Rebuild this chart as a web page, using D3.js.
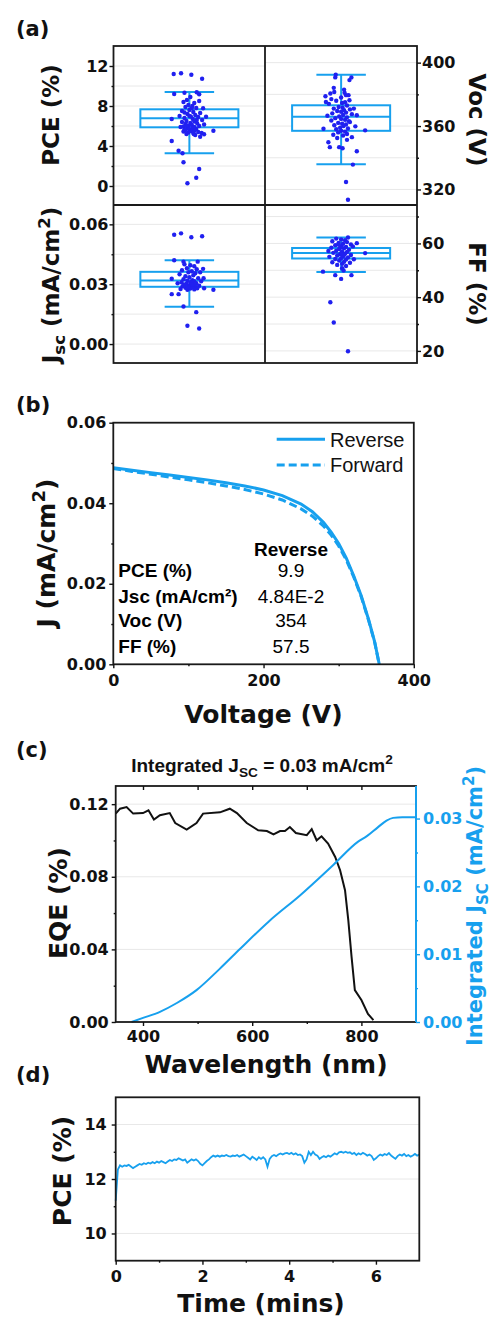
<!DOCTYPE html>
<html lang="en">
<head>
<meta charset="UTF-8">
<title>Device performance</title>
<script src="https://cdn.jsdelivr.net/npm/d3@7"></script>
<style>
  body { margin: 0; background: #fff; }
  svg { display: block; }
</style>
</head>
<body>
<svg id="fig" width="492" height="1319"></svg>
<script>
// ---------- (a) statistics: [jitter (box half-widths), value] ----------
const pcePts = [
  [-0.32, 11.2], [-0.17, 11.27], [0.04, 11.13], [0.26, 10.73], [-0.31, 9.2], [-0.1, 9.33], [0.15, 9.37], [0.2, 9.17],
  [-0.36, 4.5], [-0.22, 3.53], [-0.14, 3.27], [-0.12, 2.37], [0.2, 1.7], [0.14, 0.83], [-0.04, 0.27],
  [0.49, 5.53], [0.34, 6.93], [0.28, 7.77], [0.3, 5.17], [0.22, 4.93], [-0.36, 6.7],
  [-0.05, 8.6], [0.02, 8.9], [-0.12, 8.4], [0.1, 8.3], [0.2, 8.5], [-0.02, 8.1], [0.06, 8.0], [-0.08, 7.9],
  [0.14, 7.8], [0.0, 7.6], [-0.15, 7.5], [0.08, 7.4], [0.22, 7.3], [-0.04, 7.2], [0.12, 7.1], [-0.2, 7.0],
  [0.03, 6.95], [0.18, 6.9], [-0.1, 6.8], [0.07, 6.7], [0.26, 6.6], [-0.06, 6.5], [0.1, 6.45], [-0.15, 6.4],
  [0.02, 6.3], [0.16, 6.25], [-0.08, 6.2], [0.05, 6.1], [-0.02, 6.0], [0.2, 6.0], [-0.12, 5.95], [0.1, 5.9],
  [-0.04, 5.8], [0.06, 5.75], [-0.18, 5.9], [0.14, 5.7], [0.0, 5.65], [-0.08, 5.6], [0.1, 5.55], [0.04, 5.5],
  [-0.12, 5.45], [0.18, 5.4], [-0.02, 5.35], [0.08, 5.3], [-0.06, 5.2], [0.25, 5.3], [0.12, 5.1], [-0.1, 5.65],
  [0.3, 6.15], [0.0, 7.0], [-0.1, 7.35], [0.05, 7.8], [0.15, 6.6], [-0.05, 6.05], [0.09, 5.2]
];
const vocPts = [
  [-0.11, 392.4], [-0.12, 390.7], [0.17, 389], [0.21, 390.7], [-0.15, 384.1], [-0.22, 380.5], [0.07, 381],
  [-0.32, 378.8], [-0.31, 375.2], [0.15, 379.5], [0.17, 376.3], [-0.36, 358.3], [0.49, 357.3], [-0.26, 349.8],
  [-0.23, 346.7], [-0.04, 346.7], [0.03, 346], [0.32, 344.1], [0.12, 351.3], [0.22, 353], [0.24, 335.7],
  [0.1, 324.7], [0.14, 313.5], [0.32, 366.8], [0.29, 359.8],
  [-0.2, 377], [-0.1, 376], [0.0, 378], [0.08, 375], [-0.25, 374], [0.12, 373], [-0.05, 372], [0.03, 371.5],
  [-0.15, 371], [0.18, 370.5], [0.06, 370], [-0.08, 369.5], [0.0, 369], [0.1, 368.5], [-0.18, 368], [0.22, 367.5],
  [0.04, 367], [-0.04, 366], [0.12, 365.5], [-0.12, 365], [0.0, 364.5], [0.08, 364], [-0.2, 363.5], [0.16, 363],
  [-0.06, 362], [0.02, 361.5], [0.1, 361], [-0.14, 360.5], [0.05, 360], [-0.02, 359], [0.14, 358.5], [-0.1, 358],
  [0.0, 357], [0.08, 356.5], [-0.06, 356], [0.12, 355], [-0.16, 354.5], [0.04, 354], [-0.08, 352.5], [0.18, 362.5],
  [-0.28, 366.5], [0.02, 374.5], [0.1, 379.5], [-0.14, 381.5], [0.06, 383], [0.26, 371]
];
const jscPts = [
  [-0.31, 0.0548], [-0.17, 0.0555], [0.04, 0.0535], [0.26, 0.054], [-0.36, 0.025], [-0.22, 0.025], [-0.12, 0.0188],
  [0.14, 0.016], [-0.04, 0.0092], [0.2, 0.0078], [0.49, 0.0272], [-0.31, 0.042], [-0.12, 0.0413], [0.17, 0.0413],
  [0.28, 0.0377], [-0.36, 0.0327], [0.3, 0.028], [0.29, 0.033],
  [-0.1, 0.040], [0.02, 0.0395], [0.1, 0.039], [-0.05, 0.038], [0.15, 0.0375], [-0.15, 0.037], [0.05, 0.0365],
  [-0.02, 0.036], [0.12, 0.0355], [-0.2, 0.035], [0.08, 0.0345], [-0.08, 0.034], [0.0, 0.0335], [0.18, 0.033],
  [-0.12, 0.0325], [0.06, 0.032], [-0.04, 0.0318], [0.1, 0.0315], [-0.16, 0.031], [0.02, 0.0308], [0.14, 0.0305],
  [-0.06, 0.0302], [0.04, 0.030], [-0.1, 0.0298], [0.08, 0.0296], [0.0, 0.0294], [0.2, 0.0292], [-0.14, 0.029],
  [0.12, 0.0288], [-0.02, 0.0286], [0.06, 0.0284], [-0.08, 0.0282], [0.16, 0.028], [0.02, 0.0278], [-0.18, 0.0276],
  [0.1, 0.0274], [-0.04, 0.0272], [0.04, 0.031], [0.24, 0.0315], [-0.24, 0.0305], [0.22, 0.036], [-0.02, 0.0285],
  [0.06, 0.0298]
];
const ffPts = [
  [-0.37, 49.5], [-0.12, 48.2], [0.0, 46.8], [0.21, 48.2], [-0.22, 38.1], [-0.15, 30.6], [0.14, 19.9],
  [0.49, 56.4], [0.14, 62.2], [0.02, 50.8], [0.05, 49.9], [0.32, 60.1], [0.26, 54.1],
  [-0.1, 61.8], [0.0, 61.5], [0.08, 61.2], [-0.18, 60.8], [0.12, 60.5], [-0.05, 60.2], [0.04, 59.9], [0.2, 59.6],
  [-0.12, 59.3], [0.0, 59.0], [0.1, 58.7], [-0.2, 58.4], [0.06, 58.2], [-0.04, 57.9], [0.16, 57.6], [-0.1, 57.3],
  [0.02, 57.0], [0.12, 56.8], [-0.16, 56.5], [0.08, 56.2], [-0.02, 56.0], [0.2, 55.7], [-0.08, 55.5], [0.04, 55.2],
  [-0.24, 55.0], [0.14, 54.8], [0.0, 54.5], [-0.12, 54.2], [0.1, 54.0], [-0.04, 53.6], [0.06, 53.2], [-0.18, 53.0],
  [0.18, 52.8], [0.02, 52.4], [-0.08, 52.0], [0.1, 51.6], [-0.02, 58.5], [0.24, 58.9], [-0.26, 57.2], [0.0, 56.4],
  [0.06, 55.8], [-0.06, 59.6]
];
// whisker low, Q1, median, Q3, whisker high
const pceBox = [3.27, 5.87, 6.77, 7.67, 9.4];
const vocBox = [335.9, 357.0, 365.9, 373.1, 392.4];
const jscBox = [0.0187, 0.0287, 0.0319, 0.0362, 0.042];
const ffBox = [49.4, 54.4, 56.4, 58.3, 62.2];

// ---------- (b) J-V ----------
const voltage = [0, 25, 50, 75, 100, 125, 150, 175, 200, 225, 250, 265, 280, 290, 300, 310, 320, 330, 340, 348, 354];
const jReverse = [0.0488, 0.0482, 0.0476, 0.0470, 0.0464, 0.0458, 0.0451, 0.0443, 0.0433, 0.0419, 0.0398, 0.0379,
  0.0352, 0.0328, 0.0300, 0.0264, 0.0220, 0.0170, 0.0110, 0.0055, 0];
const jForward = [0.0486, 0.0479, 0.0472, 0.0465, 0.0458, 0.0451, 0.0443, 0.0434, 0.0423, 0.0408, 0.0386, 0.0368,
  0.0343, 0.0321, 0.0294, 0.0260, 0.0217, 0.0168, 0.0108, 0.0054, 0];
const tableRows = ['PCE (%)', 'Jsc (mA/cm²)', 'Voc (V)', 'FF (%)'];
const tableVals = ['9.9', '4.84E-2', '354', '57.5'];

// ---------- (c) EQE ----------
const eqeLam = [350, 358, 370, 382, 400, 410, 420, 431, 449, 459, 480, 498, 510, 541, 559, 572, 590, 611, 627, 639,
  651, 660, 669, 680, 700, 709, 718, 727, 739, 752, 761, 770, 776, 782, 788, 800, 812, 822];
const eqeVal = [0.1148, 0.1175, 0.1184, 0.1148, 0.1151, 0.1166, 0.1115, 0.1139, 0.1151, 0.1096, 0.106, 0.1096, 0.1148,
  0.1155, 0.1175, 0.1151, 0.1096, 0.1056, 0.1052, 0.1034, 0.1052, 0.1052, 0.1074, 0.1041, 0.1029, 0.1062, 0.1001,
  0.1023, 0.0983, 0.0909, 0.0836, 0.0726, 0.0561, 0.0359, 0.0176, 0.0121, 0.0045, 0.001];
const jscLam = [379, 400, 431, 462, 498, 540, 578, 630, 688, 749, 794, 810, 830, 846, 858, 875, 900];
const jscInt = [0, 0.0006, 0.0015, 0.0028, 0.0047, 0.0078, 0.0108, 0.0148, 0.0187, 0.0232, 0.0266, 0.0274, 0.0287,
  0.0297, 0.0301, 0.0302, 0.0302];

// ---------- (d) stabilised PCE, one value every 0.05 min ----------
const timeStep = 0.05;
const pceTrack = [
  11.2, 12.35, 12.5, 12.45, 12.5, 12.48, 12.52, 12.46, 12.4, 12.45, 12.5, 12.55, 12.52, 12.58, 12.55, 12.6, 12.57,
  12.62, 12.58, 12.64, 12.6, 12.66, 12.62, 12.58, 12.64, 12.7, 12.66, 12.72, 12.7, 12.76, 12.72, 12.68, 12.72, 12.6,
  12.66, 12.72, 12.68, 12.72, 12.66, 12.56, 12.5, 12.58, 12.66, 12.72, 12.8, 12.86, 12.82, 12.86, 12.82, 12.86, 12.84,
  12.88, 12.84, 12.82, 12.86, 12.84, 12.88, 12.82, 12.86, 12.9, 12.84, 12.78, 12.72, 12.82, 12.76, 12.7, 12.8, 12.74,
  12.8, 12.72, 12.45, 12.74, 12.84, 12.88, 12.84, 12.9, 12.94, 12.9, 12.94, 12.96, 12.92, 12.96, 12.9, 12.94, 12.88,
  12.9, 12.84, 12.6, 12.72, 13.0, 12.88, 13.0, 12.9, 12.86, 12.74, 12.8, 12.84, 12.8, 12.86, 12.82, 12.88, 12.94,
  12.9, 12.98, 13.0, 12.96, 13.0, 12.96, 12.98, 12.92, 12.96, 12.88, 12.94, 12.9, 12.96, 12.92, 12.86, 12.9, 12.84,
  12.7, 12.76, 12.84, 12.9, 12.86, 12.92, 12.88, 12.95, 12.86, 12.8, 12.74, 12.84, 12.9, 12.86, 12.92, 12.84, 12.88,
  12.82, 12.86, 12.92, 12.86, 12.9
];

// ---------- helpers ----------
const BLUE = '#17a0ee';
const DOT = '#2020f0';
const GRID = '#e8e8e8';
const svg = d3.select('#fig');

function styleAxis(g, color) {
  g.select('.domain').remove();
  g.selectAll('.tick line').attr('stroke', color).attr('stroke-width', 1.4);
  g.selectAll('.tick text').attr('fill', color)
    .style('font-family', '"DejaVu Sans"').style('font-weight', 'bold').style('font-size', '16px');
}
function addAxis(gen, tx, ty, color = '#111') {
  const g = svg.append('g').attr('transform', `translate(${tx},${ty})`).call(gen);
  styleAxis(g, color);
  return g;
}
function grid(scale, vals, x0, x1) {
  svg.append('g').selectAll('line').data(vals).join('line')
    .attr('x1', x0).attr('x2', x1)
    .attr('y1', d => scale(d)).attr('y2', d => scale(d))
    .attr('stroke', GRID).attr('stroke-width', 1);
}
function frame(x0, y0, x1, y1) {
  svg.append('rect').attr('x', x0).attr('y', y0).attr('width', x1 - x0).attr('height', y1 - y0)
    .attr('fill', 'none').attr('stroke', '#1a1a1a').attr('stroke-width', 1.8);
}
function rich(parts, x, y, rot, size, color = '#111', weight = 'bold', family = '"DejaVu Sans"', anchor = 'middle') {
  const t = svg.append('text')
    .attr('transform', `translate(${x},${y}) rotate(${rot})`)
    .attr('text-anchor', anchor).attr('fill', color)
    .style('font-family', family).style('font-weight', weight).style('font-size', size + 'px');
  let shift = 0;
  parts.forEach(([s, kind]) => {
    const target = kind === 'sub' ? size * 0.28 : kind === 'sup' ? -size * 0.4 : 0;
    t.append('tspan').attr('dy', target - shift)
      .style('font-size', (kind ? size * 0.72 : size) + 'px').text(s);
    shift = target;
  });
  return t;
}

// ================= (a) =================
const aX0 = 113.5, aX1 = 417, aMid = 265, aY0 = 46, aYm = 205, aY1 = 363;
const colX = d3.scaleBand().domain(['left', 'right']).range([aX0, aX1]);
const bw = colX.bandwidth();
const boxHalf = bw * 0.323, capHalf = bw * 0.163;

const yPce = d3.scaleLinear().domain([-1.9, 14]).range([aYm, aY0]);
const yVoc = d3.scaleLinear().domain([310.2, 410.5]).range([aYm, aY0]);
const yJsc = d3.scaleLinear().domain([-0.0095, 0.0697]).range([aY1, aYm]);
const yFf = d3.scaleLinear().domain([15.5, 74.3]).range([aY1, aYm]);

grid(yPce, [0, 2, 4, 6, 8, 10, 12], aX0, aMid);
grid(yVoc, [320, 340, 360, 380, 400], aMid, aX1);
grid(yJsc, [0, 0.015, 0.03, 0.045, 0.06], aX0, aMid);
grid(yFf, [20, 30, 40, 50, 60, 70], aMid, aX1);

function cell(col, y, pts, box) {
  const cx = colX(col) + bw / 2;
  const g = svg.append('g');
  g.append('line').attr('x1', cx).attr('x2', cx).attr('y1', y(box[0])).attr('y2', y(box[4]));
  [box[0], box[4]].forEach(v => g.append('line')
    .attr('x1', cx - capHalf).attr('x2', cx + capHalf).attr('y1', y(v)).attr('y2', y(v)));
  g.append('rect').attr('x', cx - boxHalf).attr('width', 2 * boxHalf)
    .attr('y', y(box[3])).attr('height', y(box[1]) - y(box[3])).attr('fill', '#fff');
  g.append('line').attr('x1', cx - boxHalf).attr('x2', cx + boxHalf).attr('y1', y(box[2])).attr('y2', y(box[2]));
  g.selectAll('line, rect').attr('stroke', BLUE).attr('stroke-width', 2);
  g.selectAll('circle').data(pts).join('circle')
    .attr('cx', d => cx + d[0] * boxHalf).attr('cy', d => y(d[1])).attr('r', 2.2)
    .attr('fill', DOT);
}
cell('left', yPce, pcePts, pceBox);
cell('right', yVoc, vocPts, vocBox);
cell('left', yJsc, jscPts, jscBox);
cell('right', yFf, ffPts, ffBox);

frame(aX0, aY0, aX1, aY1);
svg.append('line').attr('x1', aMid).attr('x2', aMid).attr('y1', aY0).attr('y2', aY1).attr('stroke', '#1a1a1a').attr('stroke-width', 1.8);
svg.append('line').attr('x1', aX0).attr('x2', aX1).attr('y1', aYm).attr('y2', aYm).attr('stroke', '#1a1a1a').attr('stroke-width', 1.8);

addAxis(d3.axisLeft(yPce).tickValues([0, 4, 8, 12]).tickSize(4).tickPadding(1).tickFormat(d3.format('d')), aX0, 0);
addAxis(d3.axisLeft(yPce).tickValues([2, 6, 10]).tickSize(2).tickFormat(''), aX0, 0);
addAxis(d3.axisRight(yVoc).tickValues([320, 360, 400]).tickSize(4).tickPadding(1).tickFormat(d3.format('d')), aX1, 0);
addAxis(d3.axisRight(yVoc).tickValues([340, 380]).tickSize(2).tickFormat(''), aX1, 0);
addAxis(d3.axisLeft(yJsc).tickValues([0, 0.03, 0.06]).tickSize(4).tickPadding(1).tickFormat(d3.format('.2f')), aX0, 0);
addAxis(d3.axisLeft(yJsc).tickValues([0.015, 0.045]).tickSize(2).tickFormat(''), aX0, 0);
addAxis(d3.axisRight(yFf).tickValues([20, 40, 60]).tickSize(4).tickPadding(1).tickFormat(d3.format('d')), aX1, 0);
addAxis(d3.axisRight(yFf).tickValues([30, 50, 70]).tickSize(2).tickFormat(''), aX1, 0);

rich([['PCE (%)']], 59, 115, -90, 23);
rich([['Voc (V)']], 469, 120, 90, 23);
rich([['J'], ['sc', 'sub'], [' (mA/cm'], ['2', 'sup'], [')']], 59, 285, -90, 23);
rich([['FF (%)']], 469, 284, 90, 23);

// ================= (b) =================
const xV = d3.scaleLinear().domain([0, 400]).range([113.3, 413.8]);
const yJ = d3.scaleLinear().domain([0, 0.06]).range([664.3, 422.7]);
const jvLine = d3.line().x(d => xV(d[0])).y(d => yJ(d[1]));
svg.append('path').datum(voltage.map((v, i) => [v, jForward[i]])).attr('d', jvLine)
  .attr('fill', 'none').attr('stroke', BLUE).attr('stroke-width', 3).attr('stroke-dasharray', '8,4');
svg.append('path').datum(voltage.map((v, i) => [v, jReverse[i]])).attr('d', jvLine)
  .attr('fill', 'none').attr('stroke', BLUE).attr('stroke-width', 3);
frame(113.3, 422.7, 413.8, 664.3);
addAxis(d3.axisLeft(yJ).tickValues([0, 0.02, 0.04, 0.06]).tickSize(4).tickPadding(3).tickFormat(d3.format('.2f')), 113.3, 0);
addAxis(d3.axisLeft(yJ).tickValues([0.01, 0.03, 0.05]).tickSize(2).tickFormat(''), 113.3, 0);
addAxis(d3.axisBottom(xV).tickValues([0, 200, 400]).tickSize(4).tickPadding(6).tickFormat(d3.format('d')), 0, 664.3);
addAxis(d3.axisBottom(xV).tickValues([100, 300]).tickSize(2).tickFormat(''), 0, 664.3);

// legend
[['Reverse', null, 439.3, 446.7], ['Forward', '8,4', 465, 472]].forEach(([name, dash, ly, ty]) => {
  svg.append('line').attr('x1', 276.7).attr('x2', 325).attr('y1', ly).attr('y2', ly)
    .attr('stroke', BLUE).attr('stroke-width', 3).attr('stroke-dasharray', dash);
  svg.append('text').attr('x', 330).attr('y', ty).text(name)
    .style('font-family', '"Liberation Sans", Arial').style('font-size', '20px').attr('fill', '#111');
});
// parameter table
svg.append('text').attr('x', 291).attr('y', 556).attr('text-anchor', 'middle').text('Reverse')
  .style('font-family', '"Liberation Sans", Arial').style('font-weight', 'bold').style('font-size', '19px');
const rowY = [576.7, 602.7, 626.7, 652.7];
svg.append('g').selectAll('text').data(tableRows).join('text')
  .attr('x', 118.3).attr('y', (d, i) => rowY[i]).text(d => d)
  .style('font-family', '"Liberation Sans", Arial').style('font-weight', 'bold').style('font-size', '19px');
svg.append('g').selectAll('text').data(tableVals).join('text')
  .attr('x', 291).attr('y', (d, i) => rowY[i]).attr('text-anchor', 'middle').text(d => d)
  .style('font-family', '"Liberation Sans", Arial').style('font-size', '19px');

rich([['J (mA/cm'], ['2', 'sup'], [')']], 55, 553, -90, 25);
rich([['Voltage (V)']], 263.5, 723, 0, 25);

// ================= (c) =================
const xL = d3.scaleLinear().domain([350, 900]).range([115.7, 416]);
const yE = d3.scaleLinear().domain([0, 0.13]).range([1022, 786]);
const yI = d3.scaleLinear().domain([0, 0.0348]).range([1022, 786]);
grid(yE, [0.04, 0.08, 0.12], 115.7, 416);
svg.append('path').datum(eqeLam.map((l, i) => [l, eqeVal[i]]))
  .attr('d', d3.line().x(d => xL(d[0])).y(d => yE(d[1])))
  .attr('fill', 'none').attr('stroke', '#111').attr('stroke-width', 2);
svg.append('path').datum(jscLam.map((l, i) => [l, jscInt[i]]))
  .attr('d', d3.line().x(d => xL(d[0])).y(d => yI(d[1])).curve(d3.curveMonotoneX))
  .attr('fill', 'none').attr('stroke', BLUE).attr('stroke-width', 2);
frame(115.7, 786, 416, 1022);
svg.append('line').attr('x1', 416).attr('x2', 416).attr('y1', 786).attr('y2', 1022).attr('stroke', BLUE).attr('stroke-width', 2);
addAxis(d3.axisLeft(yE).tickValues([0, 0.04, 0.08, 0.12]).tickSize(4).tickPadding(3).tickFormat(d3.format('.2f')), 115.7, 0);
addAxis(d3.axisLeft(yE).tickValues([0.02, 0.06, 0.10]).tickSize(2).tickFormat(''), 115.7, 0);
addAxis(d3.axisRight(yI).tickValues([0, 0.01, 0.02, 0.03]).tickSize(4).tickPadding(3).tickFormat(d3.format('.2f')), 416, 0, BLUE);
addAxis(d3.axisRight(yI).tickValues([0.005, 0.015, 0.025]).tickSize(2).tickFormat(''), 416, 0, BLUE);
addAxis(d3.axisBottom(xL).tickValues([400, 600, 800]).tickSize(4).tickPadding(5).tickFormat(d3.format('d')), 0, 1022);
addAxis(d3.axisBottom(xL).tickValues([500, 700]).tickSize(2).tickFormat(''), 0, 1022);
addAxis(d3.axisTop(xL).tickValues([400, 500, 600, 700, 800]).tickSize(-4).tickFormat(''), 0, 786);

rich([['Integrated J'], ['SC', 'sub'], [' = 0.03 mA/cm'], ['2', 'sup']], 262, 772, 0, 19, '#111', 'bold', '"Liberation Sans", Arial');
rich([['EQE (%)']], 67, 903, -90, 25);
rich([['Integrated J'], ['SC', 'sub'], [' (mA/cm'], ['2', 'sup'], [')']], 482, 906, -90, 21, BLUE);
rich([['Wavelength (nm)']], 266, 1072.7, 0, 25);

// ================= (d) =================
const xT = d3.scaleLinear().domain([0, 7]).range([115.7, 419.3]);
const yP = d3.scaleLinear().domain([9, 15]).range([1260.7, 1097.3]);
grid(yP, [10, 12, 14], 115.7, 419.3);
svg.append('path').datum(pceTrack.map((v, i) => [i * timeStep, v]))
  .attr('d', d3.line().x(d => xT(d[0])).y(d => yP(d[1])))
  .attr('fill', 'none').attr('stroke', BLUE).attr('stroke-width', 1.8);
frame(115.7, 1097.3, 419.3, 1260.7);
addAxis(d3.axisLeft(yP).tickValues([10, 12, 14]).tickSize(4).tickPadding(5).tickFormat(d3.format('d')), 115.7, 0);
addAxis(d3.axisLeft(yP).tickValues([11, 13]).tickSize(2).tickFormat(''), 115.7, 0);
addAxis(d3.axisBottom(xT).tickValues([0, 2, 4, 6]).tickSize(4).tickPadding(6).tickFormat(d3.format('d')), 0, 1260.7);
addAxis(d3.axisBottom(xT).tickValues([1, 3, 5]).tickSize(2).tickFormat(''), 0, 1260.7);

rich([['PCE (%)']], 71, 1171, -90, 25);
rich([['Time (mins)']], 261, 1311.7, 0, 25);

// panel letters
[['(a)', 36], ['(b)', 412], ['(c)', 757], ['(d)', 1082]].forEach(([s, y]) => {
  svg.append('text').attr('x', 16).attr('y', y).text(s)
    .style('font-family', '"DejaVu Sans"').style('font-weight', 'bold').style('font-size', '21px').attr('fill', '#111');
});
</script>
</body>
</html>
